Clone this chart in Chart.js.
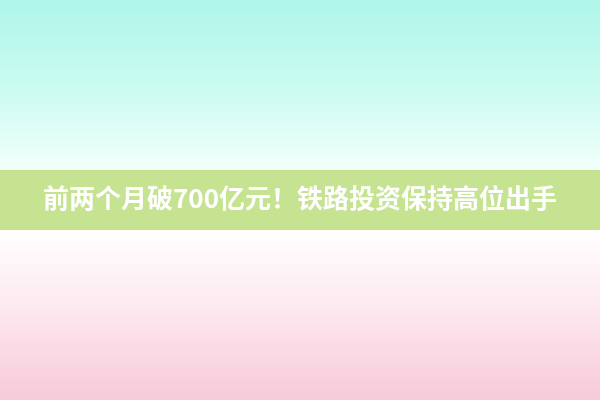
<!DOCTYPE html>
<html><head><meta charset="utf-8">
<script src="https://cdn.jsdelivr.net/npm/chart.js@4/dist/chart.umd.min.js"></script>
<style>html,body{margin:0;padding:0;background:#fff}#wrap{width:600px;height:400px}</style>
</head><body><div id="wrap"><canvas id="c"></canvas></div>
<script>
const headline = "前两个月破700亿元！铁路投资保持高位出手";
const categories = [];
const values = [];

const bgPlugin = {
  id: 'bg',
  beforeDraw(chart) {
    const ctx = chart.ctx, w = chart.width, h = chart.height;
    ctx.save();
    let g = ctx.createLinearGradient(0, 0, 0, 170);
    g.addColorStop(0, '#aff5ea');
    g.addColorStop(0.5, '#c9fbf0');
    g.addColorStop(1, '#f2fffb');
    ctx.fillStyle = g; ctx.fillRect(0, 0, w, 170);
    g = ctx.createLinearGradient(0, 230, 0, 400);
    g.addColorStop(0, '#ffffff');
    g.addColorStop(0.5, '#fde6ee');
    g.addColorStop(1, '#f7cad8');
    ctx.fillStyle = g; ctx.fillRect(0, 230, w, 170);
    ctx.fillStyle = '#c5e391';
    ctx.fillRect(0, 170, w, 60);
    ctx.restore();
  }
};

new Chart(document.getElementById('c'), {
  type: 'bar',
  data: { labels: categories, datasets: [{ data: values }] },
  options: {
    responsive: true, maintainAspectRatio: false, animation: false,
    layout: { padding: 0 },
    scales: { x: { display: false }, y: { display: false } },
    plugins: {
      legend: { display: false }, tooltip: { enabled: false },
      title: {
        display: true, text: headline, color: '#ffffff',
        font: { family: '"Noto Sans CJK SC", "Noto Sans", sans-serif', size: 26, weight: 'bold', lineHeight: 1.2 },
        padding: { top: 183, bottom: 0 }
      }
    }
  },
  plugins: [bgPlugin]
});
</script></body></html>
